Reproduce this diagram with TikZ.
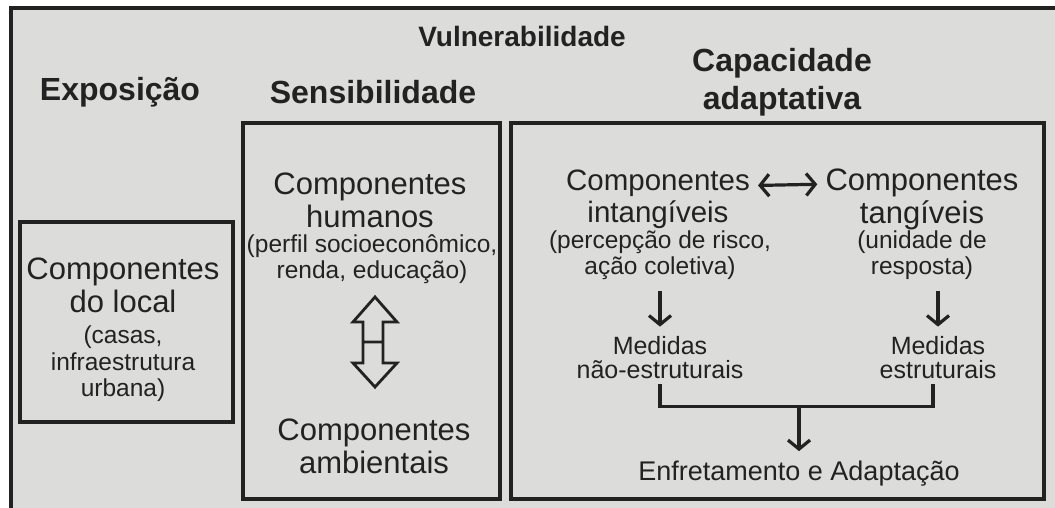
\documentclass[tikz,border=0pt]{standalone}
\usepackage{fontspec}
\setmainfont{Liberation Sans}
\usetikzlibrary{arrows.meta}
\definecolor{panelgray}{HTML}{DCDCDB}
\definecolor{inkgray}{HTML}{222222}
\tikzstyle{panel}=[draw=inkgray, line width=3.2pt, inner sep=0pt]
\tikzstyle{heading}=[font=\bfseries\fontsize{32}{38}\selectfont, align=center, inner sep=0pt, text=inkgray]
\tikzstyle{comp}=[font=\fontsize{31}{33}\selectfont, align=center, inner sep=0pt, text=inkgray]
\tikzstyle{detail}=[font=\fontsize{24.5}{26.5}\selectfont, align=center, inner sep=0pt, text=inkgray]
\tikzstyle{measure}=[font=\fontsize{25}{24}\selectfont, align=center, inner sep=0pt, text=inkgray]
\tikzstyle{edge}=[draw=inkgray, line width=3.2pt, -{Straight Barb[length=9pt,width=22pt]}]

\begin{document}
\begin{tikzpicture}[x=1pt,y=-1pt]

    \useasboundingbox (0,0) rectangle (1055,508);
    \fill[panelgray] (11,8) rectangle (1055,508);
    \draw[inkgray, line width=3.4pt] (11,510) -- (11,8) -- (1057,8);

    % the three groups
    \node[panel, minimum width=213, minimum height=200] (expbox) at (126.5,322) {};
    \node[panel, minimum width=257, minimum height=376] (sensbox) at (371.5,311) {};
    \node[panel, minimum width=533, minimum height=376] (capbox) at (777.5,311) {};

    \node[heading, font=\bfseries\fontsize{28}{30}\selectfont] (vuln) at (522,36) {Vulnerabilidade};
    \node[heading] (expo) at (120,92) {Exposição};
    \node[heading] (sens) at (373,92) {Sensibilidade};
    \node[heading] (capac) at (782,82) {Capacidade\\adaptativa};

    % exposicao
    \node[comp] (local) at (123,285) {Componentes\\do local};
    \node[detail] (localdet) at (123,364) {(casas,\\infraestrutura\\urbana)};

    % sensibilidade
    \node[comp] (human) at (370,200) {Componentes\\humanos};
    \node[detail] (humandet) at (372,259) {(perfil socioeconômico,\\renda, educação)};
    \node[comp] (amb) at (374,446) {Componentes\\ambientais};
    \coordinate (link) at (375,342);
    \draw[inkgray, line width=2.8pt, line join=miter, shift={(link)}]
        (-12,0) -- (-12,-20) -- (-22,-20) -- (0,-45) -- (22,-20) -- (8,-20) -- (8,21)
        -- (22,21) -- (0,45) -- (-22,21) -- (-12,21) -- cycle
        (-12,0) -- (8,0);

    % capacidade adaptativa
    \node[comp, font=\fontsize{29.5}{32}\selectfont] (intang) at (658,199) {Componentes\\intangíveis};
    \node[detail] (intangdet) at (660,255) {(percepção de risco,\\ação coletiva)};
    \node[comp] (tang) at (922,199) {Componentes\\tangíveis};
    \node[detail] (tangdet) at (922,255) {(unidade de\\resposta)};
    \node[measure] (naoest) at (660,358) {Medidas\\não-estruturais};
    \node[measure] (estr) at (938,358) {Medidas\\estruturais};
    \node[comp, font=\fontsize{27}{28}\selectfont] (enfr) at (799,474) {Enfretamento e Adaptação};

    \draw[edge, {Straight Barb[length=9pt,width=22pt]}-{Straight Barb[length=9pt,width=22pt]}]
        ([xshift=8pt,yshift=-16pt]intang.north east) -- ([xshift=-8pt,yshift=-16pt]tang.north west);

    \foreach \src/\dst in {intangdet/naoest, tangdet/estr}
        \draw[edge] ([yshift=-11pt]\src.south -| \dst) -- ([yshift=10pt]\dst.north);

    \draw[inkgray, line width=3.2pt] ([yshift=-5pt]naoest.south) -- ++(0,22) coordinate (bl)
        -| ([yshift=-5pt,xshift=-5pt]estr.south);
    \draw[edge] (bl -| enfr) -- ([yshift=10pt]enfr.north);

\end{tikzpicture}
\end{document}
